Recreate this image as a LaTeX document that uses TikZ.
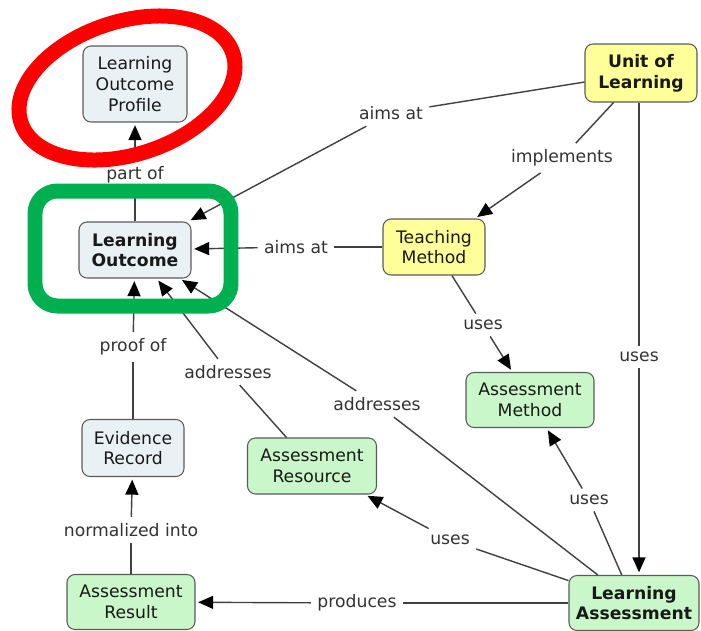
\documentclass[tikz,border=0pt]{standalone}
\usepackage{fontspec}
\setmainfont{DejaVu Sans}
\usepackage{xcolor}
\usetikzlibrary{arrows.meta}
\definecolor{lofill}{HTML}{EAF1F4}
\definecolor{unitfill}{HTML}{FFFF99}
\definecolor{asfill}{HTML}{C9F7C9}
\definecolor{boxline}{HTML}{5A5A5A}
\definecolor{markgreen}{HTML}{00B050}

\begin{document}
\begin{tikzpicture}[x=0.02cm, y=-0.02cm, >={Triangle[length=3mm,width=2.6mm,color=black]},
  concept/.style={draw=boxline, line width=0.6pt, rounded corners=1.6mm, align=center, inner sep=2pt, text=black!90, font=\fontsize{9.8}{11.8}\selectfont},
  lo/.style={concept, fill=lofill},
  unit/.style={concept, fill=unitfill},
  as/.style={concept, fill=asfill},
  link/.style={inner sep=3.5pt, text=black!80, font=\fontsize{9.8}{11.8}\selectfont},
  wire/.style={draw=black!75, line width=0.8pt},
  arc/.style={wire, ->, shorten >=1.5pt}]
\useasboundingbox (0,0) rectangle (701,630);
\node[lo, minimum width=2.08cm, minimum height=1.52cm] (profile) at (135,84) {Learning\\Outcome\\Profile};
\node[lo, minimum width=2.24cm, minimum height=1.12cm] (outcome) at (135,250) {\textbf{Learning}\\\textbf{Outcome}};
\node[unit, minimum width=2.24cm, minimum height=1.16cm] (unit) at (641,73) {\textbf{Unit of}\\\textbf{Learning}};
\node[unit, minimum width=2.04cm, minimum height=1.12cm] (teach) at (434,247) {Teaching\\Method};
\node[as, minimum width=2.56cm, minimum height=1.1cm] (amethod) at (530,400) {Assessment\\Method};
\node[lo, minimum width=2.04cm, minimum height=1.14cm] (evidence) at (133,448) {Evidence\\Record};
\node[as, minimum width=2.58cm, minimum height=1.12cm] (resource) at (312,466) {Assessment\\Resource};
\node[as, minimum width=2.56cm, minimum height=1.1cm] (result) at (131,602) {Assessment\\Result};
\node[as, minimum width=2.6cm, minimum height=1.1cm] (lassess) at (634,603) {\textbf{Learning}\\\textbf{Assessment}};

\node[link] (aimsU) at (391,113) {aims at};
\node[link] (impl) at (562,158) {implements};
\node[link] (aimsT) at (296,247) {aims at};
\node[link] (usesT) at (483,325) {uses};
\node[link] (usesU) at (639,357) {uses};
\node[link] (usesM) at (589,500) {uses};
\node[link] (usesR) at (450,540) {uses};
\node[link] (prod) at (357,603) {produces};
\node[link] (addrA) at (377,404) {addresses};
\node[link] (addrR) at (228,372) {addresses};
\node[link] (proof) at (133,347) {proof of};
\node[link] (norm) at (131,530) {normalized into};
\node[link] (partof) at (135,175) {part of};

\draw[wire] (unit) -- (aimsU);
\draw[arc] (aimsU) -- (outcome);
\draw[wire] (unit) -- (impl);
\draw[arc] (impl) -- (teach);
\draw[wire] (teach) -- (aimsT);
\draw[arc] (aimsT) -- (outcome);
\draw[wire] (teach) -- (usesT);
\draw[arc] (usesT) -- (amethod);
\draw[wire] (unit.south -| usesU) -- (usesU);
\draw[arc] (usesU) -- (usesU |- lassess.north);
\draw[wire] (lassess) -- (usesM);
\draw[arc] (usesM) -- (amethod);
\draw[wire] (lassess) -- (usesR);
\draw[arc] (usesR) -- (resource);
\draw[wire] (lassess) -- (prod);
\draw[arc] (prod) -- (result);
\draw[wire] (lassess) -- (addrA);
\draw[arc] (addrA) -- (outcome);
\draw[wire] (resource) -- (addrR);
\draw[arc] (addrR) -- (outcome);
\draw[wire] (evidence) -- (proof);
\draw[arc] (proof) -- (outcome);
\draw[wire] (result) -- (norm);
\draw[arc] (norm) -- (evidence);
\draw[wire] (outcome) -- (partof);
\draw[arc] (partof) -- (profile);

\draw[red, line width=0.3cm, rotate around={18:(127,88)}] (127,88) ellipse [x radius=2.23cm, y radius=1.33cm];
\draw[markgreen, line width=0.3cm, rounded corners=0.45cm] (35,191) rectangle (231,306);
\end{tikzpicture}
\end{document}
